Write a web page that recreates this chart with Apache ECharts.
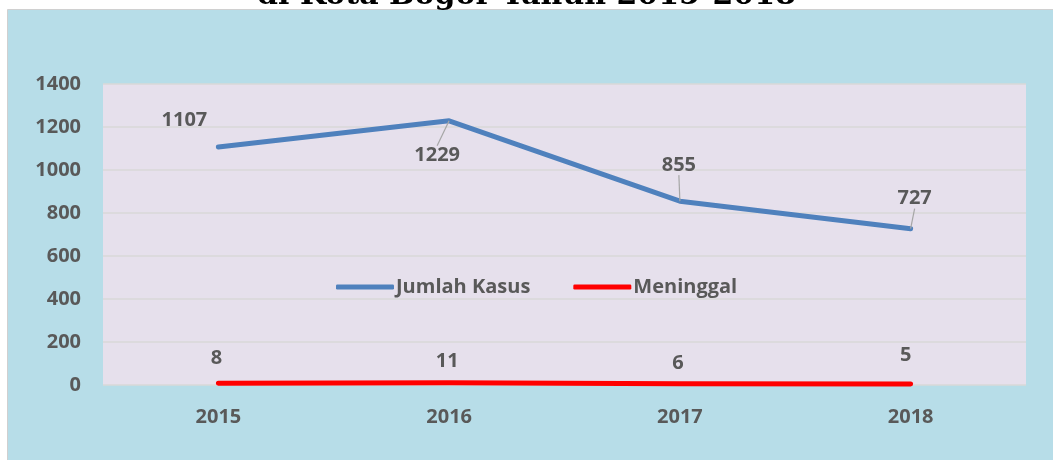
<!DOCTYPE html>
<html>
	<head>
		<meta charset="UTF-8">
		<title>Kasus DBD Kota Bogor</title>
		<script src="https://cdn.jsdelivr.net/npm/echarts@6/dist/echarts.min.js"></script>
		<style>
			html, body { margin: 0; padding: 0; background: #fff; }
			#chart { width: 1053px; height: 460px; }
		</style>
	</head>
	<body>
		<div id="chart"></div>
		<script type="text/javascript">
			// data
			var years = ['2015', '2016', '2017', '2018'];
			var jumlahKasus = [1107, 1229, 855, 727];
			var meninggal = [8, 11, 6, 5];
			var yTicks = [0, 200, 400, 600, 800, 1000, 1200, 1400];

			// label nudges (px) so labels sit where the original has them
			var kasusShift = [[-34, -12], [-12, 50], [-1, -21], [4, -15]];
			var matiShift = [[-2, -10], [-2, -6], [-2, -5], [-5, -14]];

			var labelFont = {
				fontFamily: 'Open Sans',
				fontWeight: 'bold',
				fontSize: 20,
				color: '#595959'
			};

			var myChart = echarts.init(document.getElementById('chart'));

			var option = {
				backgroundColor: '#ffffff',
				animation: false,
				graphic: [{
					type: 'rect',
					z: -10,
					silent: true,
					shape: { x: 7.5, y: 9.5, width: 1050, height: 455 },
					style: { fill: '#B7DDE8', stroke: '#D0D0D0', lineWidth: 1 }
				}, {
					type: 'text',
					z: 10,
					left: 'center',
					top: -19,
					style: {
						text: 'di Kota Bogor Tahun 2015-2018',
						font: 'bold 30px "DejaVu Serif"',
						fill: '#000'
					}
				}],
				grid: {
					left: 103,
					right: 27,
					top: 84,
					bottom: 75,
					show: true,
					backgroundColor: '#E6E0EC',
					borderWidth: 0
				},
				legend: {
					data: ['Jumlah Kasus', 'Meninggal'],
					left: 331,
					top: 272,
					itemWidth: 58,
					itemHeight: 5,
					itemGap: 43,
					icon: 'roundRect',
					textStyle: {
						fontFamily: 'Open Sans',
						fontWeight: 'bold',
						fontSize: 20,
						color: '#595959',
						padding: [0, 0, 0, -3]
					}
				},
				xAxis: {
					type: 'category',
					data: years,
					boundaryGap: true,
					axisLine: { show: false },
					axisTick: { show: false },
					axisLabel: Object.assign({ margin: 22 }, labelFont)
				},
				yAxis: {
					type: 'value',
					min: yTicks[0],
					max: yTicks[yTicks.length - 1],
					interval: yTicks[1] - yTicks[0],
					axisLine: { show: false },
					axisTick: { show: false },
					axisLabel: Object.assign({ margin: 22, formatter: function(v) { return String(v); } }, labelFont),
					splitLine: { lineStyle: { color: '#D9D9D9', width: 1.5 } }
				},
				series: [{
					name: 'Jumlah Kasus',
					type: 'line',
					symbol: 'circle',
					symbolSize: 0.1,
					showSymbol: true,
					data: jumlahKasus.map(function(v, i) {
						return { value: v, labelLine: { show: i > 0 } };
					}),
					itemStyle: { color: '#4F81BD' },
					lineStyle: { color: '#4F81BD', width: 5, cap: 'round', join: 'round' },
					label: Object.assign({ show: true, position: 'top' }, labelFont),
					labelLine: { show: true, lineStyle: { color: '#A6A6A6', width: 1.2 } },
					labelLayout: function(p) {
						return { dx: kasusShift[p.dataIndex][0], dy: kasusShift[p.dataIndex][1] };
					}
				}, {
					name: 'Meninggal',
					type: 'line',
					symbol: 'circle',
					symbolSize: 0.1,
					showSymbol: true,
					data: meninggal,
					itemStyle: { color: '#FF0000' },
					lineStyle: { color: '#FF0000', width: 5, cap: 'round', join: 'round' },
					label: Object.assign({ show: true, position: 'top' }, labelFont),
					labelLayout: function(p) {
						return { dx: matiShift[p.dataIndex][0], dy: matiShift[p.dataIndex][1] };
					}
				}]
			};

			myChart.setOption(option);
		</script>
	</body>
</html>
